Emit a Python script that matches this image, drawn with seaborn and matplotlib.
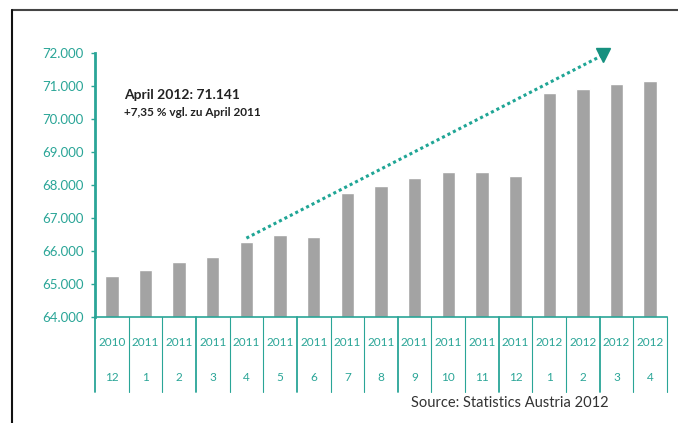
import seaborn as sns
import matplotlib.pyplot as plt
from matplotlib.ticker import FuncFormatter

# monthly values
years = ['2010', '2011', '2011', '2011', '2011', '2011', '2011', '2011', '2011',
         '2011', '2011', '2011', '2011', '2012', '2012', '2012', '2012']
months = ['12', '1', '2', '3', '4', '5', '6', '7', '8', '9', '10', '11', '12',
          '1', '2', '3', '4']
values = [65240, 65420, 65670, 65820, 66270, 66480, 66420, 67770, 67970,
          68200, 68400, 68390, 68280, 70800, 70900, 71050, 71141]

# trend arrow: from April 2011 towards the top right
arrow_x = [4, 14.6]
arrow_y = [66390, 71940]

teal = '#2aa597'
dark_teal = '#16907f'

sns.set_style('white')
plt.rcParams['font.family'] = ['Lato', 'DejaVu Sans']

fig = plt.figure(figsize=(6.78, 4.23), dpi=100)
ax = fig.add_axes([0.1401, 0.2506, 0.8437, 0.6241])

cats = [y + '-' + m for y, m in zip(years, months)]
sns.barplot(x=cats, y=values, color='#a3a3a3', width=0.4, saturation=1, ax=ax)

ax.set_ylim(64000, 72000)
ax.set_xlim(-0.5, len(cats) - 0.5)
ax.set_yticks(range(64000, 72001, 1000))
ax.yaxis.set_major_formatter(FuncFormatter(lambda v, p: f'{int(v):,}'.replace(',', '.')))
ax.tick_params(axis='y', colors=teal, labelcolor=teal, labelsize=9.5,
               length=3, width=1, direction='out', left=True, pad=5)
ax.set_xticks([])
ax.set_xlabel('')
ax.set_ylabel('')

for s in ['top', 'right']:
    ax.spines[s].set_visible(False)
ax.spines['left'].set_color(teal)
ax.spines['left'].set_linewidth(2)
ax.spines['bottom'].set_color(teal)
ax.spines['bottom'].set_linewidth(1.2)

# table under the x axis
trans = ax.get_xaxis_transform()
for i in range(len(cats) + 1):
    ax.plot([i - 0.5, i - 0.5], [0, -0.284], transform=trans, color=teal,
            lw=1.3 if i % 3 == 0 else 0.8, clip_on=False)
for i, (y, m) in enumerate(zip(years, months)):
    ax.text(i, -0.095, y, transform=trans, ha='center', va='center',
            fontsize=8.5, color=teal)
    ax.text(i, -0.231, m, transform=trans, ha='center', va='center',
            fontsize=8.5, color=teal)

# dotted trend arrow
ax.plot(arrow_x, arrow_y, linestyle=(0, (1, 1)), lw=2.2, color='#1fa595',
        clip_on=False)
ax.plot(arrow_x[1], arrow_y[1], marker='v', markersize=10, color=dark_teal,
        clip_on=False)

ax.text(0.05, 0.84, 'April 2012: 71.141', transform=ax.transAxes,
        fontsize=10, fontweight='bold', color='#222222', va='center')
ax.text(0.05, 0.775, '+7,35 % vgl. zu April 2011', transform=ax.transAxes,
        fontsize=8.5, fontweight='bold', color='#222222', va='center')

fig.text(0.897, 0.047, 'Source: Statistics Austria 2012', ha='right',
         va='center', fontsize=10.5, color='#333333')

# frame lines (top and left)
fig.add_artist(plt.Line2D([0.0177, 1], [0.976, 0.976], color='#444444', lw=1.5))
fig.add_artist(plt.Line2D([0.0177, 0.0177], [0, 0.976], color='#111111', lw=1.5))

fig.savefig('out.png', dpi=100)
